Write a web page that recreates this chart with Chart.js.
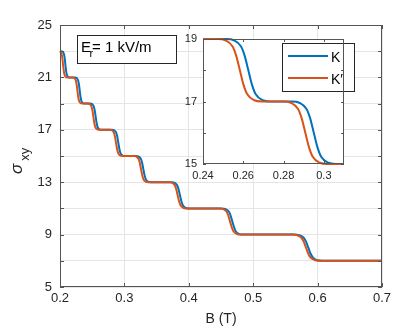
<!DOCTYPE html>
<html>
<head>
<meta charset="utf-8">
<script src="https://cdn.jsdelivr.net/npm/chart.js@4.4.1/dist/chart.umd.min.js"></script>
<style>
html, body { margin: 0; padding: 0; background: #fff; }
#wrap { position: relative; width: 415px; height: 327px; }
canvas { position: absolute; left: 0; top: 0; }
</style>
</head>
<body>
<div id="wrap">
  <canvas id="main" width="415" height="327"></canvas>
  <canvas id="inset" width="415" height="327"></canvas>
</div>
<script>
// main plot: sigma_xy steps
const sigmaMain = [
  23, 22.96, 22.76, 22.46, 22, 21.54, 21.24, 21.04, 21,
  21, 20.96, 20.76, 20.46, 20, 19.54, 19.24, 19.04, 19,
  19, 18.96, 18.76, 18.46, 18, 17.54, 17.24, 17.04, 17,
  17, 16.96, 16.76, 16.46, 16, 15.54, 15.24, 15.04, 15,
  15, 14.96, 14.76, 14.46, 14, 13.54, 13.24, 13.04, 13,
  13, 12.96, 12.76, 12.46, 12, 11.54, 11.24, 11.04, 11,
  11, 10.96, 10.76, 10.46, 10, 9.54, 9.24, 9.04, 9,
  9, 8.96, 8.76, 8.46, 8, 7.54, 7.24, 7.04, 7,
  7];
const bK = [
  0.2000, 0.2041, 0.2062, 0.2073, 0.2083, 0.2094, 0.2104, 0.2125, 0.2146,
  0.2234, 0.2258, 0.2282, 0.2294, 0.2306, 0.2318, 0.2330, 0.2354, 0.2378,
  0.2470, 0.2498, 0.2526, 0.2540, 0.2554, 0.2568, 0.2582, 0.2610, 0.2638,
  0.2810, 0.2842, 0.2874, 0.2890, 0.2906, 0.2922, 0.2938, 0.2970, 0.3002,
  0.3183, 0.3220, 0.3257, 0.3276, 0.3294, 0.3313, 0.3331, 0.3368, 0.3405,
  0.3731, 0.3775, 0.3819, 0.3841, 0.3863, 0.3885, 0.3907, 0.3951, 0.3995,
  0.4511, 0.4566, 0.4621, 0.4649, 0.4676, 0.4704, 0.4731, 0.4786, 0.4841,
  0.5640, 0.5712, 0.5784, 0.5820, 0.5856, 0.5892, 0.5928, 0.6000, 0.6072,
  0.7];
const bKp = [
  0.2000, 0.2005, 0.2026, 0.2037, 0.2047, 0.2058, 0.2068, 0.2089, 0.2110,
  0.2198, 0.2222, 0.2246, 0.2258, 0.2270, 0.2282, 0.2294, 0.2318, 0.2342,
  0.2434, 0.2462, 0.2490, 0.2504, 0.2518, 0.2532, 0.2546, 0.2574, 0.2602,
  0.2774, 0.2806, 0.2838, 0.2854, 0.2870, 0.2886, 0.2902, 0.2934, 0.2966,
  0.3147, 0.3184, 0.3221, 0.3240, 0.3258, 0.3277, 0.3295, 0.3332, 0.3369,
  0.3695, 0.3739, 0.3783, 0.3805, 0.3827, 0.3849, 0.3871, 0.3915, 0.3959,
  0.4475, 0.4530, 0.4585, 0.4613, 0.4640, 0.4668, 0.4695, 0.4750, 0.4805,
  0.5604, 0.5676, 0.5748, 0.5784, 0.5820, 0.5856, 0.5892, 0.5964, 0.6036,
  0.7];

// inset (zoom on 0.24 - 0.31)
const sigmaInset = [19,
  19, 18.96, 18.76, 18.46, 18, 17.54, 17.24, 17.04, 17,
  17, 16.96, 16.76, 16.46, 16, 15.54, 15.24, 15.04, 15,
  15];
const bKInset = [0.24,
  0.2517, 0.2553, 0.2589, 0.2607, 0.2625, 0.2643, 0.2661, 0.2697, 0.2733,
  0.2842, 0.2878, 0.2914, 0.2932, 0.2950, 0.2968, 0.2986, 0.3022, 0.3058,
  0.31];
const bKpInset = [0.24,
  0.2475, 0.2511, 0.2547, 0.2565, 0.2583, 0.2601, 0.2619, 0.2655, 0.2691,
  0.2800, 0.2836, 0.2872, 0.2890, 0.2908, 0.2926, 0.2944, 0.2980, 0.3016,
  0.31];

// ticks
const xTicksMain = [0.2, 0.3, 0.4, 0.5, 0.6, 0.7];
const yTicksMain = [5, 7, 9, 11, 13, 15, 17, 19, 21, 23, 25];
const yLabelsMain = [5, 9, 13, 17, 21, 25];
const xTicksInset = [0.24, 0.26, 0.28, 0.30];
const yTicksInset = [15, 16, 17, 18, 19];
const yLabelsInset = [15, 17, 19];

const seriesNames = ['K', 'K\u2032'];
const blue = '#0072BD', orange = '#D95319';
const axisCol = '#262626';
const FONT = 'Liberation Sans';

const pts = (xs, ys) => xs.map((x, i) => ({x: x, y: ys[i]}));

// box round the plot area + ticks pointing inward on all four sides
function boxPlugin(len, col) {
  return {
    id: 'box' + len,
    afterDraw(chart) {
      const c = chart.ctx, a = chart.chartArea;
      const sx = chart.scales.x, sy = chart.scales.y;
      c.save();
      c.strokeStyle = col;
      c.lineWidth = 1;
      c.strokeRect(a.left + 0.5, a.top + 0.5, a.right - a.left - 1, a.bottom - a.top - 1);
      c.beginPath();
      sx.ticks.forEach(t => {
        const px = Math.round(sx.getPixelForValue(t.value)) + 0.5;
        c.moveTo(px, a.bottom); c.lineTo(px, a.bottom - len);
        c.moveTo(px, a.top); c.lineTo(px, a.top + len);
      });
      sy.ticks.forEach(t => {
        const py = Math.round(sy.getPixelForValue(t.value)) + 0.5;
        c.moveTo(a.left, py); c.lineTo(a.left + len, py);
        c.moveTo(a.right, py); c.lineTo(a.right - len, py);
      });
      c.stroke();
      c.restore();
    }
  };
}

const mainLabels = {
  id: 'mainLabels',
  afterDraw(chart) {
    const c = chart.ctx;
    c.save();
    c.fillStyle = axisCol;
    // x title
    c.font = '14px "' + FONT + '"';
    c.textAlign = 'center';
    c.textBaseline = 'alphabetic';
    c.fillText('B (T)', 221, 323);
    // y title, rotated
    c.translate(22, 174);
    c.rotate(-Math.PI / 2);
    c.textAlign = 'left';
    c.font = 'italic 17px "' + FONT + '"';
    c.fillText('\u03c3', 0, 0);
    const w = c.measureText('\u03c3').width;
    c.font = '13px "' + FONT + '"';
    c.fillText('xy', w + 3, 7);
    c.restore();

    // text box
    c.save();
    c.fillStyle = '#fff';
    c.fillRect(77, 35, 99, 28);
    c.strokeStyle = axisCol;
    c.lineWidth = 1;
    c.strokeRect(77.5, 35.5, 99, 28);
    c.fillStyle = '#000';
    c.textAlign = 'left';
    c.font = '15px "' + FONT + '"';
    c.fillText('E', 81, 52);
    c.font = '11px "' + FONT + '"';
    c.fillText('r', 89.5, 57);
    c.font = '15px "' + FONT + '"';
    c.fillText('= 1 kV/m', 92, 52);
    c.restore();
  }
};

const insetExtras = {
  id: 'insetExtras',
  beforeDraw(chart) {
    const c = chart.ctx, a = chart.chartArea;
    c.save();
    c.fillStyle = '#fff';
    c.fillRect(a.left, a.top, a.right - a.left, a.bottom - a.top);
    c.restore();
  },
  afterDraw(chart) {
    const c = chart.ctx;
    c.save();
    c.fillStyle = '#fff';
    c.fillRect(282, 43, 73, 49);
    c.strokeStyle = axisCol;
    c.lineWidth = 1;
    c.strokeRect(282.5, 43.5, 72, 48);
    c.lineWidth = 2;
    c.strokeStyle = blue;
    c.beginPath(); c.moveTo(288, 56); c.lineTo(328, 56); c.stroke();
    c.strokeStyle = orange;
    c.beginPath(); c.moveTo(288, 78); c.lineTo(328, 78); c.stroke();
    c.fillStyle = '#000';
    c.font = '14px "' + FONT + '"';
    c.textBaseline = 'alphabetic';
    c.fillText(seriesNames[0], 331, 61.5);
    c.fillText(seriesNames[1], 331, 83.5);
    c.restore();
  }
};

function lineSet(label, data, color, order) {
  return {
    label: label, data: data, borderColor: color, borderWidth: 2,
    pointRadius: 0, fill: false, cubicInterpolationMode: 'monotone',
    order: order, clip: 3
  };
}

new Chart(document.getElementById('main'), {
  type: 'line',
  data: {
    datasets: [
      lineSet(seriesNames[0], pts(bK, sigmaMain), blue, 2),
      lineSet(seriesNames[1], pts(bKp, sigmaMain), orange, 1)
    ]
  },
  options: {
    responsive: false,
    animation: false,
    devicePixelRatio: 1,
    layout: { padding: { left: 10, right: 33, top: 25, bottom: 10 } },
    plugins: { legend: { display: false }, tooltip: { enabled: false } },
    scales: {
      x: {
        type: 'linear', min: 0.2, max: 0.7,
        afterBuildTicks: s => { s.ticks = xTicksMain.map(v => ({value: v})); },
        afterFit: s => { s.height = 30; },
        ticks: { autoSkip: false, maxRotation: 0, padding: 4, color: axisCol,
                 font: { family: FONT, size: 13 }, callback: v => String(v) },
        grid: { color: '#e5e5e5', drawTicks: false },
        border: { display: false }
      },
      y: {
        type: 'linear', min: 5, max: 25,
        afterBuildTicks: s => { s.ticks = yTicksMain.map(v => ({value: v})); },
        afterFit: s => { s.width = 50; },
        ticks: { autoSkip: false, padding: 8, color: axisCol,
                 font: { family: FONT, size: 13 },
                 callback: v => yLabelsMain.includes(v) ? String(v) : '' },
        grid: { color: '#e5e5e5', drawTicks: false },
        border: { display: false }
      }
    }
  },
  plugins: [boxPlugin(4, '#555'), mainLabels]
});

new Chart(document.getElementById('inset'), {
  type: 'line',
  data: {
    datasets: [
      lineSet(seriesNames[0], pts(bKInset, sigmaInset), blue, 2),
      lineSet(seriesNames[1], pts(bKpInset, sigmaInset), orange, 1)
    ]
  },
  options: {
    responsive: false,
    animation: false,
    devicePixelRatio: 1,
    layout: { padding: { left: 173, right: 71, top: 39, bottom: 143 } },
    plugins: { legend: { display: false }, tooltip: { enabled: false } },
    scales: {
      x: {
        type: 'linear', min: 0.24, max: 0.31,
        afterBuildTicks: s => { s.ticks = xTicksInset.map(v => ({value: v})); },
        afterFit: s => { s.height = 20; },
        ticks: { autoSkip: false, maxRotation: 0, padding: 5, color: axisCol,
                 font: { family: FONT, size: 11 }, callback: v => String(+v.toFixed(2)) },
        grid: { display: false, drawTicks: false },
        border: { display: false }
      },
      y: {
        type: 'linear', min: 15, max: 19,
        afterBuildTicks: s => { s.ticks = yTicksInset.map(v => ({value: v})); },
        afterFit: s => { s.width = 30; },
        ticks: { autoSkip: false, padding: 6, color: axisCol,
                 font: { family: FONT, size: 11 },
                 callback: v => yLabelsInset.includes(v) ? String(v) : '' },
        grid: { display: false, drawTicks: false },
        border: { display: false }
      }
    }
  },
  plugins: [insetExtras, boxPlugin(3, '#555')]
});
</script>
</body>
</html>
